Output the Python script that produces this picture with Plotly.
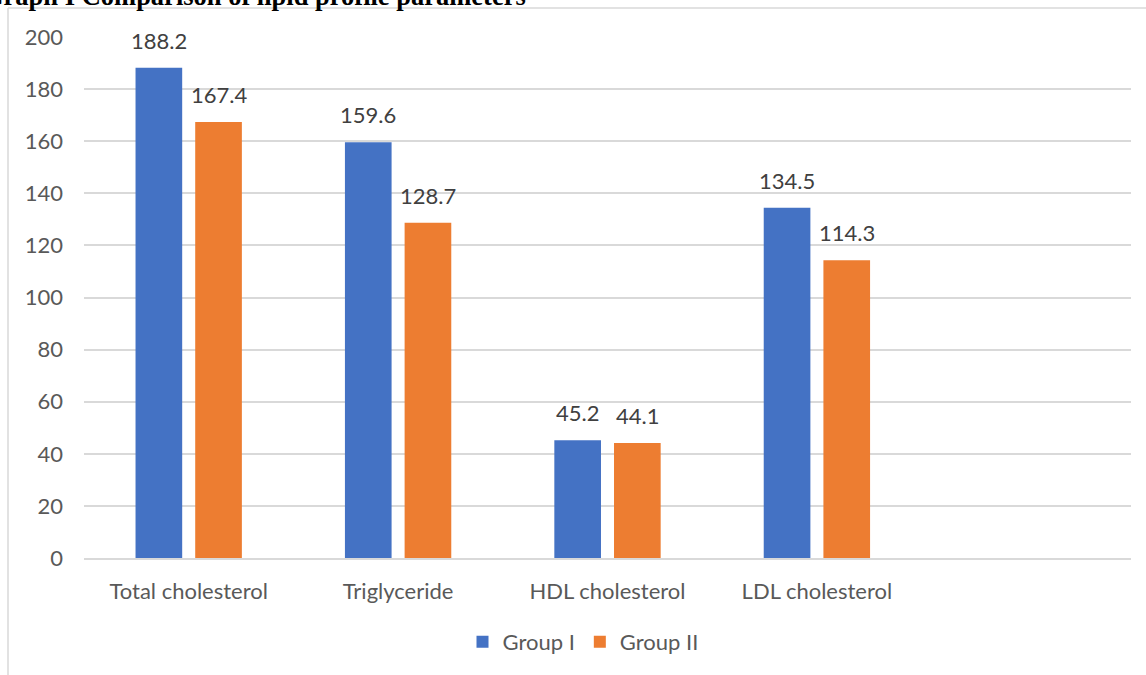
import plotly.graph_objects as go

# Lipid profile means per group
categories = ["Total cholesterol", "Triglyceride", "HDL cholesterol", "LDL cholesterol"]
group_1 = [188.2, 159.6, 45.2, 134.5]
group_2 = [167.4, 128.7, 44.1, 114.3]
series_names = ["Group I", "Group II"]
y_ticks = [0, 20, 40, 60, 80, 100, 120, 140, 160, 180, 200]

BLUE = "#4472C4"
ORANGE = "#ED7D31"
GRID = "#D9D9D9"
TICK_TEXT = "#595959"
LABEL_TEXT = "#404040"
FONT = "Lato, 'Open Sans', sans-serif"
FS = 22

W, H = 1146, 675
ML, MR, MT, MB = 84, 15, 37, 117
PW, PH = W - ML - MR, H - MT - MB


def px_x(px):
    return (px - ML) / PW


def px_y(py):
    return 1 - (py - MT) / PH


x_pos = list(range(len(categories)))

fig = go.Figure()
fig.add_trace(go.Bar(x=x_pos, y=group_1, name=series_names[0],
                     marker=dict(color=BLUE, line=dict(width=0))))
fig.add_trace(go.Bar(x=x_pos, y=group_2, name=series_names[1],
                     marker=dict(color=ORANGE, line=dict(width=0))))

# value labels above each bar
offset = 0.1426
annotations = []
for i, (a, b) in enumerate(zip(group_1, group_2)):
    for dx, v in ((-offset, a), (offset, b)):
        annotations.append(dict(
            x=i + dx, y=v, xref="x", yref="y", text=f"{v}",
            showarrow=False, yanchor="bottom", xanchor="center", yshift=12,
            font=dict(family=FONT, size=FS, color=LABEL_TEXT)))

# chart heading, partly clipped at the top-left edge
annotations.append(dict(
    x=px_x(528), y=px_y(13), xref="paper", yref="paper",
    text="<b>Graph I Comparison of lipid profile parameters</b>",
    showarrow=False, xanchor="right", yanchor="bottom",
    font=dict(family="'Liberation Serif', 'Times New Roman', serif", size=26.5, color="#000000")))

shapes = [
    # chart area border (top and left edges)
    dict(type="line", xref="paper", yref="paper",
         x0=px_x(8), x1=px_x(W + 5), y0=px_y(8), y1=px_y(8),
         line=dict(color=GRID, width=1.5)),
    dict(type="line", xref="paper", yref="paper",
         x0=px_x(8), x1=px_x(8), y0=px_y(8), y1=px_y(H + 5),
         line=dict(color=GRID, width=1.5)),
]

fig.update_layout(
    width=W, height=H,
    margin=dict(l=ML, r=MR, t=MT, b=MB, pad=0),
    paper_bgcolor="white", plot_bgcolor="white",
    barmode="group", bargap=0.43, bargroupgap=0.218,
    font=dict(family=FONT, size=FS, color=TICK_TEXT),
    showlegend=True,
    legend=dict(orientation="h", x=px_x(583), xanchor="center",
                y=px_y(642), yanchor="middle",
                font=dict(family=FONT, size=FS, color=TICK_TEXT),
                bgcolor="rgba(0,0,0,0)"),
    annotations=annotations,
    shapes=shapes,
)

fig.update_xaxes(
    range=[-0.5, 4.5], tickmode="array", tickvals=x_pos, ticktext=categories,
    showgrid=False, zeroline=False, showline=True, linecolor=GRID, linewidth=1.5,
    ticks="", ticklabelstandoff=13,
    tickfont=dict(family=FONT, size=FS, color=TICK_TEXT),
)
fig.update_yaxes(
    range=[0, 200], tickmode="array", tickvals=y_ticks,
    showgrid=True, gridcolor=GRID, gridwidth=1.5,
    zeroline=False, showline=False, ticks="", ticklabelstandoff=20,
    tickfont=dict(family=FONT, size=FS, color=TICK_TEXT),
)

fig.write_html("out.html")
